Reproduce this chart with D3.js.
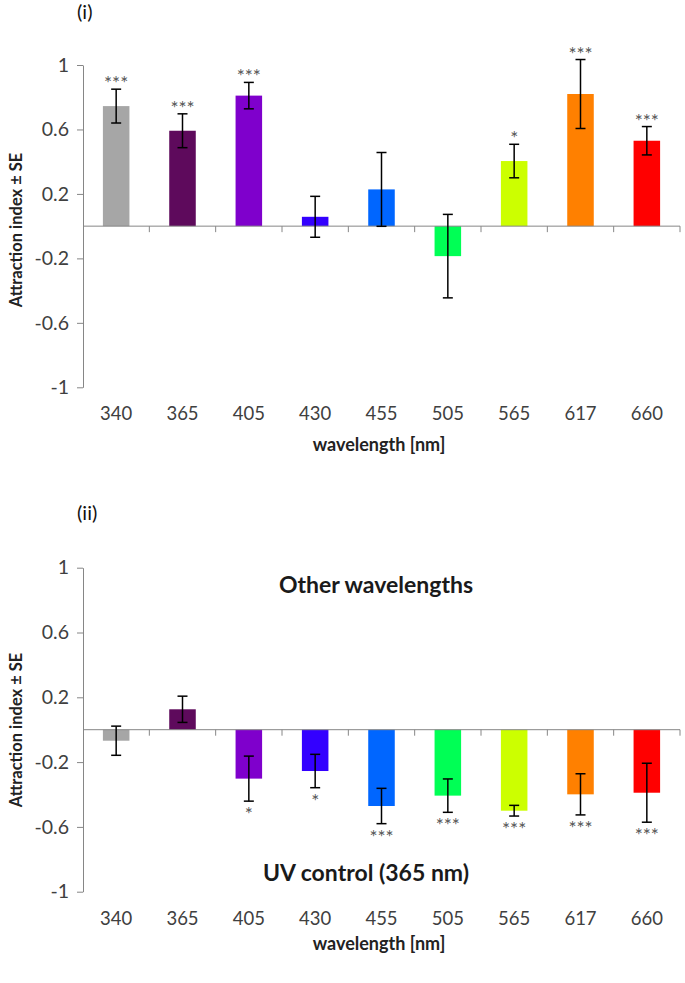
<!DOCTYPE html>
<html>
<head>
<meta charset="utf-8">
<script src="https://cdn.jsdelivr.net/npm/d3@7"></script>
<style>
  html, body { margin: 0; padding: 0; background: #fff; }
  svg { display: block; }
</style>
</head>
<body>
<script>
// ---------------- data ----------------
const wavelengths = ["340", "365", "405", "430", "455", "505", "565", "617", "660"];
const barColors = ["#a6a6a6", "#5e0a5c", "#7f00cc", "#3300ff", "#0066ff", "#00ff55", "#ccff00", "#ff8000", "#ff0000"];
const yTicks = [-1, -0.6, -0.2, 0.2, 0.6, 1];

// panel (i)
const meansI = [0.745, 0.592, 0.81, 0.058, 0.228, -0.186, 0.404, 0.82, 0.53];
const seI    = [0.105, 0.105, 0.082, 0.127, 0.229, 0.259, 0.104, 0.214, 0.088];
const sigI   = ["***", "***", "***", "", "", "", "*", "***", "***"];

// panel (ii)
const meansII = [-0.068, 0.126, -0.302, -0.255, -0.471, -0.407, -0.5, -0.399, -0.389];
const seII    = [0.09, 0.081, 0.139, 0.103, 0.109, 0.103, 0.033, 0.127, 0.182];
const sigII   = ["", "", "*", "*", "***", "***", "***", "***", "***"];

// ---------------- drawing ----------------
const W = 685, H = 983;
const FONT = "Lato, 'Open Sans', sans-serif";
const AXIS = "#868686";
const TXT = "#404040";

const svg = d3.select("body").append("svg")
  .attr("width", W).attr("height", H)
  .attr("font-family", FONT);

function drawPanel(cfg) {
  const g = svg.append("g");
  const x = d3.scaleBand().domain(wavelengths)
    .range([83, 680]).paddingInner(0.6).paddingOuter(0.3);
  const y = d3.scaleLinear().domain([-1, 1]).range([cfg.yBottom, cfg.yTop]);
  const rows = wavelengths.map((w, i) => ({ w, m: cfg.means[i], se: cfg.se[i], sig: cfg.sig[i], c: barColors[i] }));

  // panel label
  g.append("text").attr("x", 77).attr("y", cfg.labelY)
    .attr("font-size", 20).attr("fill", "#111").text(cfg.label);

  // y axis
  const yAxis = d3.axisLeft(y).tickValues(yTicks)
    .tickSize(6).tickPadding(8).tickSizeOuter(0);
  const ya = g.append("g").attr("transform", "translate(83,0)").call(yAxis);
  ya.select(".domain").attr("stroke", AXIS);
  ya.selectAll(".tick line").attr("stroke", AXIS);
  ya.selectAll(".tick text").attr("font-size", 19.5).attr("fill", TXT).attr("font-family", FONT)
    .text(d => d < 0 ? "-" + Math.abs(d) : d);

  // bars
  g.selectAll("rect.bar").data(rows).join("rect")
    .attr("x", d => x(d.w)).attr("width", x.bandwidth())
    .attr("y", d => y(Math.max(0, d.m)))
    .attr("height", d => Math.abs(y(d.m) - y(0)))
    .attr("fill", d => d.c);

  // x axis line at zero with category-boundary ticks
  const y0 = y(0);
  g.append("line").attr("x1", 83).attr("x2", 680).attr("y1", y0).attr("y2", y0)
    .attr("stroke", AXIS).attr("stroke-width", 1);
  const bounds = wavelengths.map(w => x(w) - x.step() * 0.3).concat([680]);
  g.selectAll("line.xt").data(bounds.slice(1)).join("line")
    .attr("x1", d => d).attr("x2", d => d).attr("y1", y0).attr("y2", y0 + 6)
    .attr("stroke", AXIS);

  // x tick labels at bottom
  const xAxis = d3.axisBottom(x).tickSize(0).tickPadding(0);
  const xa = g.append("g").attr("transform", `translate(0,${cfg.xLabelY})`).call(xAxis);
  xa.select(".domain").remove();
  xa.selectAll(".tick text").attr("font-size", 18.5).attr("fill", TXT)
    .attr("font-family", FONT).attr("dy", 0);

  // error bars
  const cap = 5;
  const eb = g.selectAll("g.eb").data(rows).join("g");
  eb.append("line")
    .attr("x1", d => x(d.w) + x.bandwidth() / 2).attr("x2", d => x(d.w) + x.bandwidth() / 2)
    .attr("y1", d => y(d.m + d.se)).attr("y2", d => y(d.m - d.se))
    .attr("stroke", "#000").attr("stroke-width", 1.5);
  [1, -1].forEach(s => {
    eb.append("line")
      .attr("x1", d => x(d.w) + x.bandwidth() / 2 - cap).attr("x2", d => x(d.w) + x.bandwidth() / 2 + cap)
      .attr("y1", d => y(d.m + s * d.se)).attr("y2", d => y(d.m + s * d.se))
      .attr("stroke", "#000").attr("stroke-width", 1.5);
  });

  // significance stars
  g.selectAll("text.sig").data(rows.filter(d => d.sig)).join("text")
    .attr("x", d => x(d.w) + x.bandwidth() / 2)
    .attr("y", d => d.m >= 0 ? y(d.m + d.se) + 1 : y(d.m - d.se) + 20)
    .attr("text-anchor", "middle").attr("font-size", 19)
    .attr("fill", "#555").text(d => d.sig);

  // axis titles
  g.append("text").attr("x", 379).attr("y", cfg.xTitleY).attr("text-anchor", "middle")
    .attr("font-size", 18).attr("font-weight", "bold").attr("fill", "#222").text("wavelength [nm]");
  g.append("text").attr("transform", `translate(22,${cfg.yTitleY}) rotate(-90)`)
    .attr("text-anchor", "middle").attr("font-size", 16.5).attr("font-weight", "bold")
    .attr("fill", "#222").text("Attraction index ± SE");

  (cfg.notes || []).forEach(n => {
    g.append("text").attr("x", n.x).attr("y", n.y).attr("text-anchor", "middle")
      .attr("font-size", 23).attr("font-weight", "bold").attr("fill", "#1a1a1a").text(n.text);
  });
}

drawPanel({ label: "(i)", labelY: 19, yTop: 65, yBottom: 387.3, means: meansI, se: seI, sig: sigI,
  xLabelY: 420, xTitleY: 451, yTitleY: 230 });
drawPanel({ label: "(ii)", labelY: 520, yTop: 567.7, yBottom: 891.7, means: meansII, se: seII, sig: sigII,
  xLabelY: 925, xTitleY: 950, yTitleY: 730,
  notes: [{ text: "Other wavelengths", x: 376, y: 593 }, { text: "UV control (365 nm)", x: 366, y: 881 }] });
</script>
</body>
</html>
